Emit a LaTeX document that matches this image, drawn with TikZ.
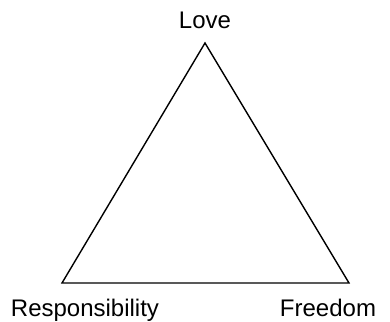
\documentclass[tikz,border=0pt]{standalone}
\usepackage{fontspec}
\setmainfont{Liberation Sans}
\usetikzlibrary{positioning}

\begin{document}
\begin{tikzpicture}[x=1pt, y=-1pt,
    vertexlabel/.style={font=\fontsize{24}{28}\selectfont, inner sep=0pt}]
        \useasboundingbox (0,0) rectangle (390,321);

        % Corners of the triangle
        \coordinate (top) at (205,43);
        \coordinate (left) at (62,283);
        \coordinate (right) at (349,283);

        \draw[line width=1.4pt, line join=miter] (top) -- (left) -- (right) -- cycle;

        % Labels
        \node[vertexlabel, anchor=base] (love) at (205,29) {Love};
        \node[vertexlabel, anchor=base] (resp) at (85,316) {Responsibility};
        \node[vertexlabel, anchor=base] (free) at (328,316) {Freedom};
    \end{tikzpicture}
\end{document}
